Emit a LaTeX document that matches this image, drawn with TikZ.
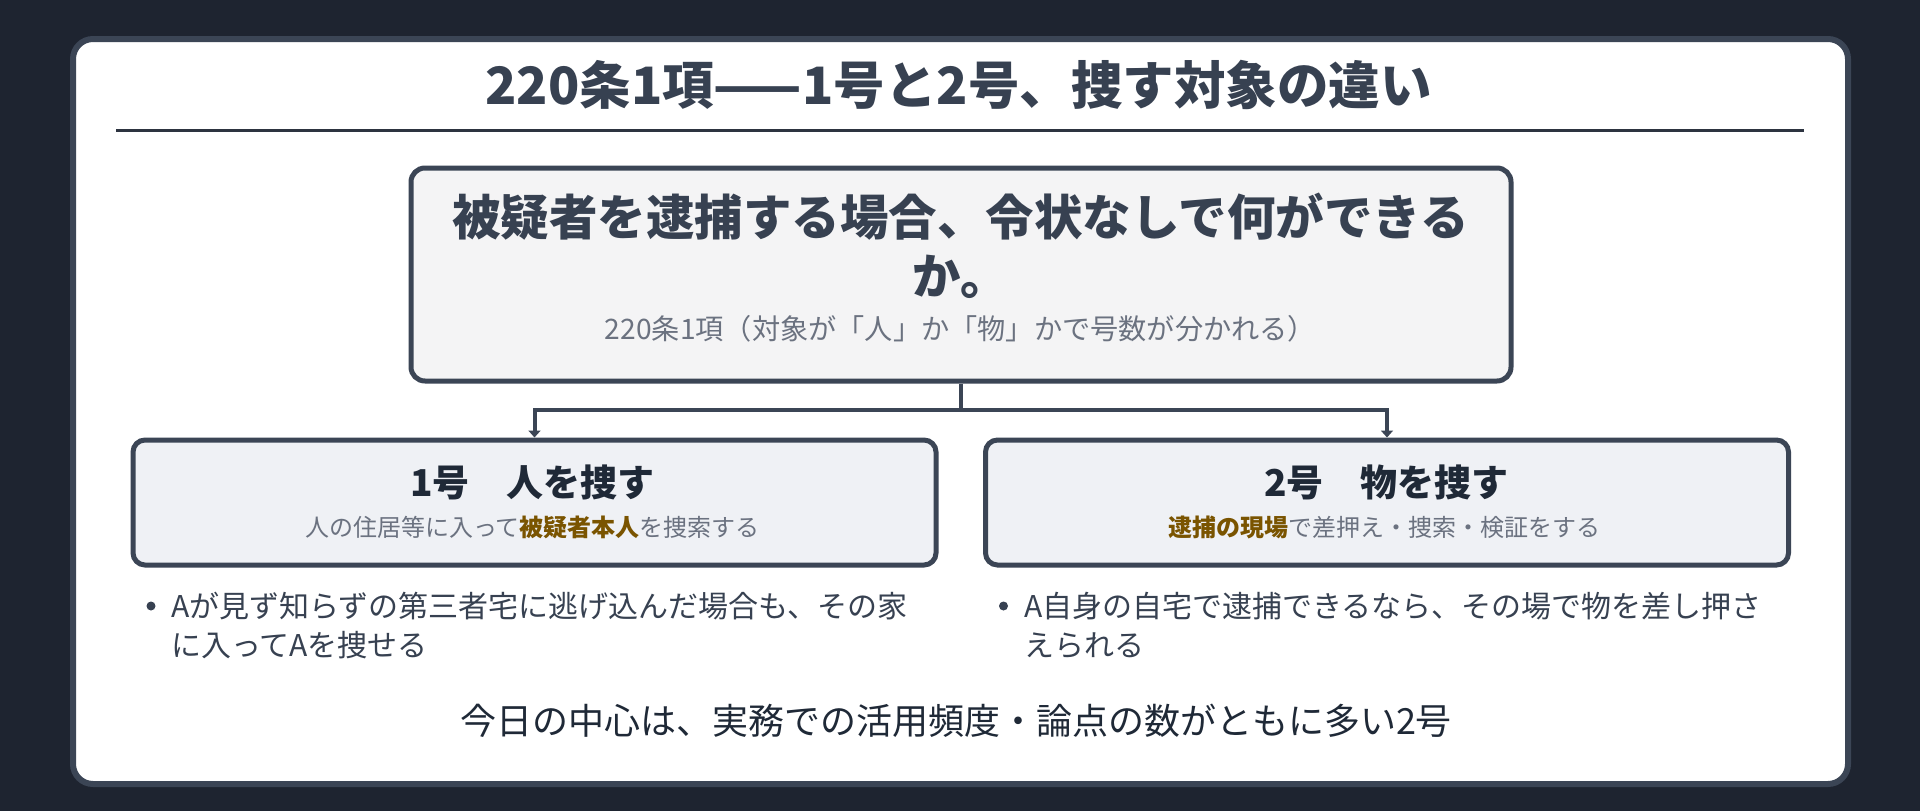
\documentclass[tikz,border=0pt]{standalone}
\usepackage{fontspec}
\setmainfont{Noto Sans CJK JP}
\usetikzlibrary{arrows.meta}
\definecolor{bgdark}{HTML}{1E2430}
\definecolor{edgec}{HTML}{3B4555}
\definecolor{titlec}{HTML}{374151}
\definecolor{darkc}{HTML}{1F2937}
\definecolor{subc}{HTML}{6B7280}
\definecolor{hlc}{HTML}{7A5400}
\definecolor{mainfill}{HTML}{F4F4F5}
\definecolor{childfill}{HTML}{EFF1F5}
\definecolor{rulec}{HTML}{2D3440}
\begin{document}
\begin{tikzpicture}[x=1pt,y=-1pt,
  cardbox/.style={draw=edgec,fill=white,line width=6pt,rounded corners=20pt,minimum width=1775pt,minimum height=745pt,inner sep=0pt},
  mainbox/.style={draw=edgec,fill=mainfill,line width=5pt,rounded corners=14pt,minimum width=1100pt,minimum height=213pt,inner sep=0pt},
  childbox/.style={draw=edgec,fill=childfill,line width=5pt,rounded corners=12pt,minimum width=803pt,minimum height=125pt,inner sep=0pt},
  txt/.style={inner sep=0pt,outer sep=0pt},
  pagetitle/.style={txt,text=titlec,font=\fontsize{51.5}{60}\selectfont\bfseries},
  maintitle/.style={txt,text=titlec,align=center,font=\fontsize{48.5}{59}\selectfont\bfseries},
  mainsub/.style={txt,text=subc,font=\fontsize{28.2}{32}\selectfont},
  childtitle/.style={txt,text=darkc,font=\fontsize{37}{44}\selectfont\bfseries},
  childsub/.style={txt,text=subc,font=\fontsize{24}{30}\selectfont},
  bullettext/.style={txt,text=titlec,align=left,anchor=west,font=\fontsize{30}{39}\selectfont},
  bulletmark/.style={circle,fill=titlec,inner sep=0pt,minimum size=9pt},
  footer/.style={txt,text=darkc,font=\fontsize{36}{42}\selectfont},
  conn/.style={draw=edgec,line width=4pt},
  rulel/.style={draw=rulec,line width=3pt}
]
\fill[bgdark] (0,0) rectangle (1920,811);
\useasboundingbox (0,0) rectangle (1920,811);

\node[cardbox] (card) at (960.5,411.5) {};

\node[pagetitle] (title) at (958.5,85) {220条1項——1号と2号、捜す対象の違い};
\coordinate (rl) at (116,130);
\coordinate (rr) at (1804,130);
\draw[rulel] (rl) -- (rr);

\node[mainbox] (main) at (961,274.5) {};
\node[maintitle] (mt) at (960.5,245.5) {被疑者を逮捕する場合、令状なしで何ができる\\か。};
\node[mainsub] (ms) at (960.5,329) {220条1項（対象が「人」か「物」かで号数が分かれる）};

\node[childbox] (c1) at (534.5,502.5) {};
\node[childbox] (c2) at (1387,502.5) {};

\coordinate (j) at (961,410);
\draw[conn] (main.south) -- (j);
\draw[conn,-{Triangle[width=12pt,length=7pt]}] (j) -| (c1.north);
\draw[conn,-{Triangle[width=12pt,length=7pt]}] (j) -| (c2.north);

\node[childtitle] (t1) at (532.5,482) {1号　人を捜す};
\node[childsub] (s1) at (532.5,527.5) {人の住居等に入って{\color{hlc}\bfseries 被疑者本人}を捜索する};
\node[childtitle] (t2) at (1386.5,482) {2号　物を捜す};
\node[childsub] (s2) at (1384,527.5) {{\color{hlc}\bfseries 逮捕の現場}で差押え・捜索・検証をする};

\node[bulletmark] (b1) at (151,606) {};
\node[bullettext] (bt1) at (171,625.5) {Aが見ず知らずの第三者宅に逃げ込んだ場合も、その家\\に入ってAを捜せる};
\node[bulletmark] (b2) at (1003.5,606) {};
\node[bullettext] (bt2) at (1024,625.5) {A自身の自宅で逮捕できるなら、その場で物を差し押さ\\えられる};

\node[footer] (foot) at (956,721) {今日の中心は、実務での活用頻度・論点の数がともに多い2号};
\end{tikzpicture}
\end{document}
